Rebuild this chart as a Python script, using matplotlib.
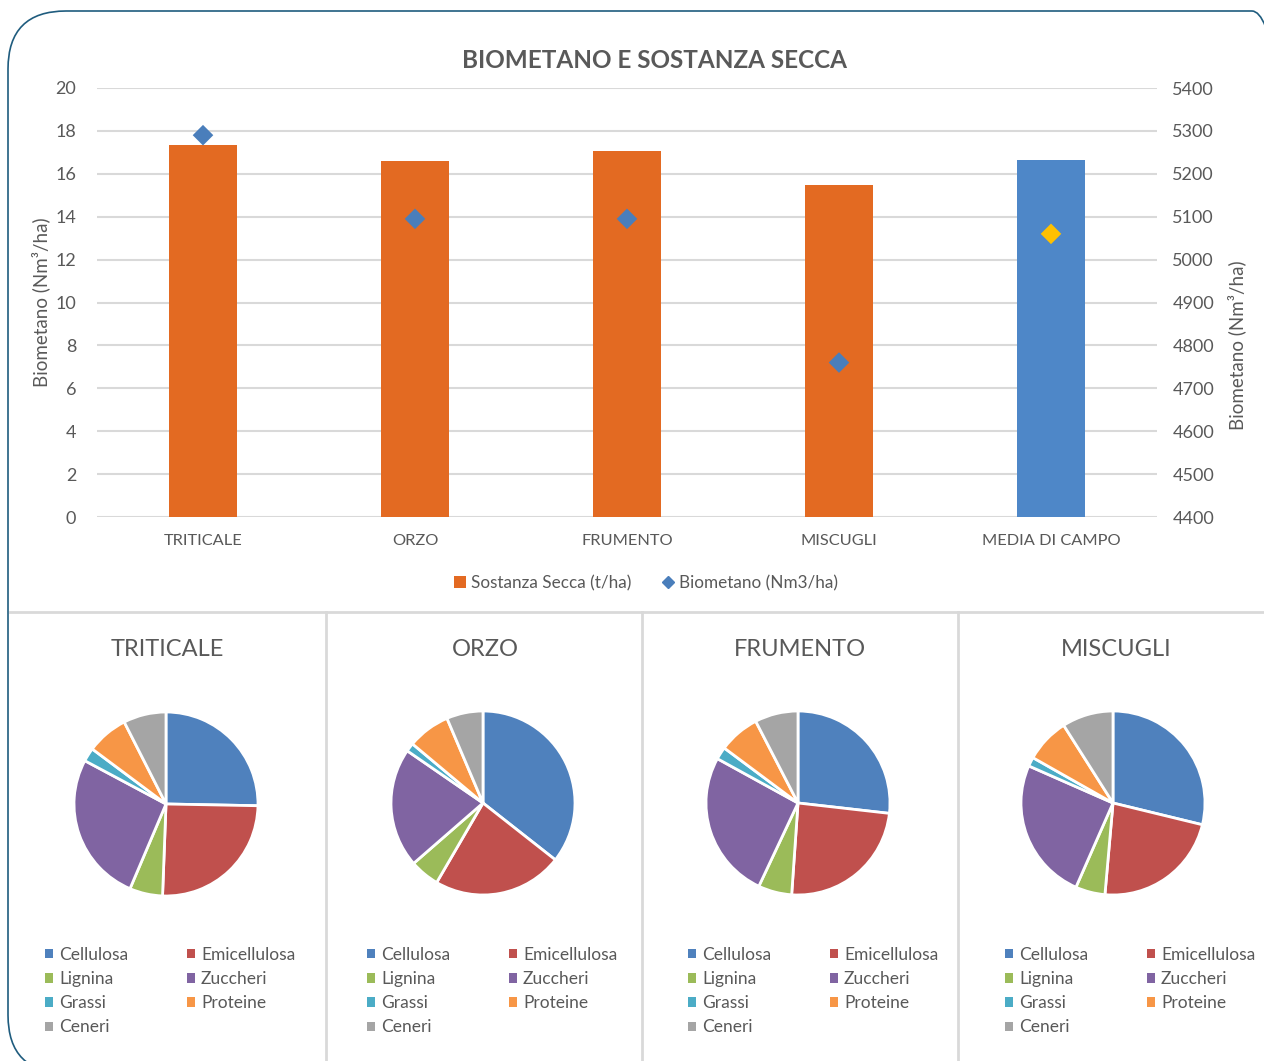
import numpy as np
import matplotlib
matplotlib.use('Agg')
import matplotlib.pyplot as plt
from matplotlib.patches import FancyBboxPatch, Patch
from matplotlib.lines import Line2D

plt.rcParams['font.family'] = ['Lato', 'DejaVu Sans']

# --- dati ---
colture = ['TRITICALE', 'ORZO', 'FRUMENTO', 'MISCUGLI', 'MEDIA DI CAMPO']
sostanza_secca = [17.35, 16.6, 17.07, 15.5, 16.63]        # t/ha
biometano = [5290, 5095, 5095, 4760, 5060]                # Nm3/ha

componenti = ['Cellulosa', 'Emicellulosa', 'Lignina', 'Zuccheri',
              'Grassi', 'Proteine', 'Ceneri']
pie_titoli = ['TRITICALE', 'ORZO', 'FRUMENTO', 'MISCUGLI']
comp_triticale = [25.3, 25.3, 5.8, 26.4, 2.4, 7.3, 7.5]
comp_orzo = [35.6, 22.8, 5.2, 21.0, 1.5, 7.5, 6.4]
comp_frumento = [26.8, 24.3, 5.9, 26.0, 2.2, 7.2, 7.6]
comp_miscugli = [28.8, 22.6, 5.2, 25.0, 1.6, 7.8, 9.0]

GRIGIO = '#595959'
GRIGLIA = '#d9d9d9'
ARANCIO = '#e36a22'
BLU_BAR = '#4e87c8'
BLU_ROMBO = '#4a7ebb'
GIALLO = '#ffc000'
COL_PIE = ['#4f81bd', '#c0504d', '#9bbb59', '#8064a2',
           '#4bacc6', '#f79646', '#a5a5a5']

W, H = 1264, 1061
fig = plt.figure(figsize=(W / 100, H / 100), dpi=100)
fig.patch.set_facecolor('white')

def fx(px):
    return px / W

def fy(py):
    return 1 - py / H

# cornice arrotondata
cornice = FancyBboxPatch((0.08, -0.12), 13.02, 10.62,
                         boxstyle='round,pad=0,rounding_size=0.58',
                         transform=fig.dpi_scale_trans, fill=False,
                         edgecolor='#1f5c7e', linewidth=1.2, clip_on=False)
fig.patches.append(cornice)

# separatori tra i pannelli
fig.add_artist(Line2D([fx(10), fx(1264)], [fy(612), fy(612)],
                      color=GRIGLIA, lw=2, transform=fig.transFigure))
for xs in [326, 642, 958]:
    fig.add_artist(Line2D([fx(xs), fx(xs)], [fy(612), fy(1061)],
                          color=GRIGLIA, lw=2, transform=fig.transFigure))

# --- grafico a barre ---
ax = fig.add_axes([fx(97), fy(517), fx(1157) - fx(97), fy(88) - fy(517)])
x = np.arange(len(colture))
colori_bar = [ARANCIO] * 4 + [BLU_BAR]
ax.bar(x, sostanza_secca, width=0.32, color=colori_bar, zorder=2)
ax.set_xlim(-0.5, 4.5)
ax.set_ylim(0, 20)
ax.set_yticks(np.arange(0, 21, 2))
ax.set_xticks(x)
ax.set_xticklabels(colture)
ax.grid(axis='y', color=GRIGLIA, lw=1.5, zorder=0)
ax.set_axisbelow(True)
for s in ax.spines.values():
    s.set_visible(False)
ax.tick_params(length=0, colors=GRIGIO, labelsize=11.8)
ax.tick_params(axis='y', pad=15, labelsize=13)
ax.tick_params(axis='x', pad=12)
ax.set_ylabel('Biometano (Nm³/ha)', color=GRIGIO, fontsize=13.5, labelpad=4)

ax2 = ax.twinx()
ax2.set_ylim(4400, 5400)
ax2.set_yticks(np.arange(4400, 5401, 100))
colori_rombi = [BLU_ROMBO] * 4 + [GIALLO]
ax2.scatter(x, biometano, marker='D', s=110, c=colori_rombi, zorder=3,
            linewidths=0)
for s in ax2.spines.values():
    s.set_visible(False)
ax2.tick_params(length=0, colors=GRIGIO, labelsize=13, pad=11)
ax2.set_ylabel('Biometano (Nm³/ha)', color=GRIGIO, fontsize=13.5,
               rotation=90, va='center')
ax2.yaxis.set_label_coords(1.0755, 0.40)

fig.text(fx(654), fy(60), 'BIOMETANO E SOSTANZA SECCA', ha='center',
         va='center', fontsize=17.5, fontweight='bold', color=GRIGIO)

leg_h = [Patch(facecolor=ARANCIO, edgecolor='none'),
         Line2D([], [], marker='D', ls='none', color=BLU_ROMBO, markersize=6)]
fig.legend(leg_h, ['Sostanza Secca (t/ha)', 'Biometano (Nm3/ha)'],
           loc='center', bbox_to_anchor=(fx(646), fy(583)), ncol=2,
           frameon=False, fontsize=12.3, labelcolor=GRIGIO,
           handlelength=0.7, handleheight=0.7, handletextpad=0.3,
           columnspacing=1.8)

# --- torte ---
dati_pie = [comp_triticale, comp_orzo, comp_frumento, comp_miscugli]
centri = [(166, 804), (483, 803), (798, 803), (1113, 803)]
titoli_x = [167, 485, 800, 1116]
leg_x = [45, 367, 688, 1005]
R = 92
ordine = [0, 2, 4, 6, 1, 3, 5]  # riga per riga in due colonne
for vals, (cx, cy), tit, tx, lx in zip(dati_pie, centri, pie_titoli,
                                       titoli_x, leg_x):
    pa = fig.add_axes([fx(cx - R), fy(cy + R), fx(2 * R), 2 * R / H])
    pa.pie(vals, colors=COL_PIE, startangle=90, counterclock=False,
           wedgeprops=dict(edgecolor='white', linewidth=2))
    pa.set_xlim(-1, 1)
    pa.set_ylim(-1, 1)
    pa.axis('off')
    fig.text(fx(tx), fy(649), tit, ha='center', va='center',
             fontsize=17, color=GRIGIO)
    hh = [Patch(facecolor=COL_PIE[i], edgecolor='none') for i in ordine]
    ll = [componenti[i] for i in ordine]
    fig.legend(hh, ll, loc='upper left', bbox_to_anchor=(fx(lx), fy(947)),
               ncol=2, frameon=False, fontsize=12.5, labelcolor=GRIGIO,
               handlelength=0.45, handleheight=0.45, handletextpad=0.35,
               columnspacing=3.4, labelspacing=0.47, borderpad=0,
               borderaxespad=0)

fig.savefig('out.png', dpi=100, facecolor='white')
